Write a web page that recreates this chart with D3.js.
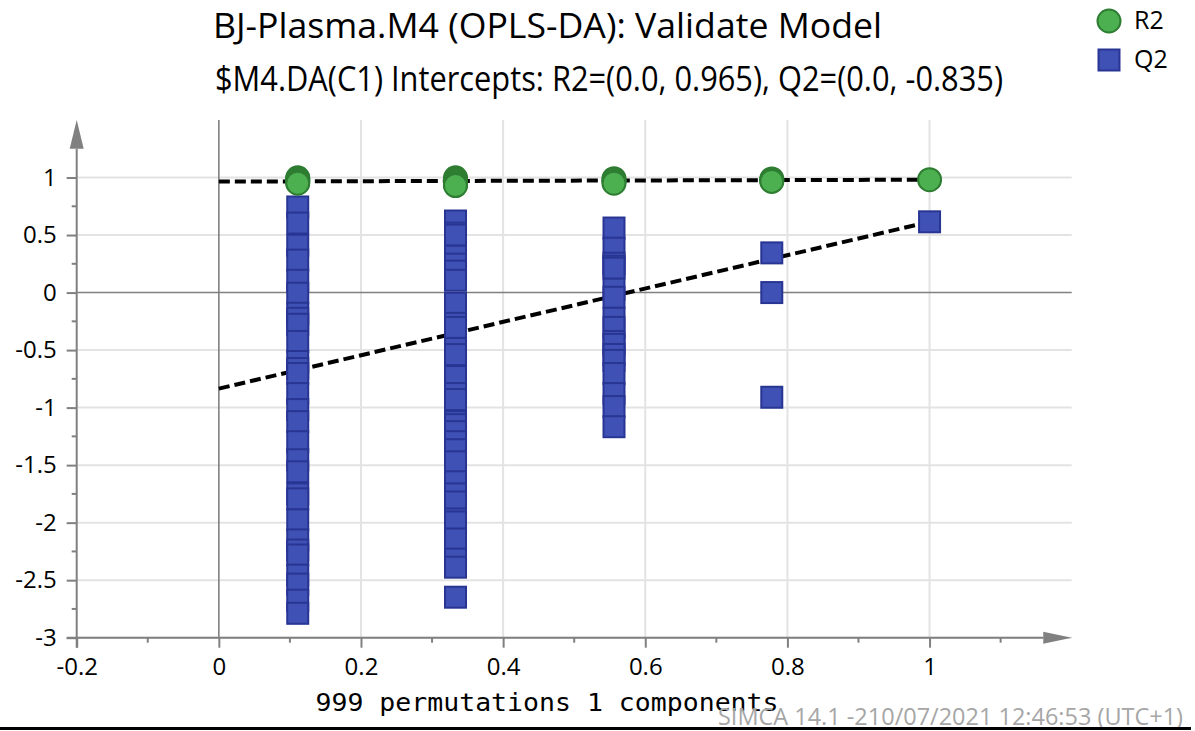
<!DOCTYPE html>
<html><head><meta charset="utf-8">
<script src="https://cdn.jsdelivr.net/npm/d3@7"></script>
<style>
html,body{margin:0;padding:0;background:#fff;}
svg{display:block;}
text{font-family:"Open Sans","Noto Sans",sans-serif;}
</style></head>
<body>
<script>
// ---- data ----
const titleLines = ["BJ-Plasma.M4 (OPLS-DA): Validate Model",
                    "$M4.DA(C1) Intercepts: R2=(0.0, 0.965), Q2=(0.0, -0.835)"];
const xLabel = "999 permutations 1 components";
const footer = "SIMCA 14.1 -210/07/2021 12:46:53 (UTC+1)";
const seriesNames = ["R2", "Q2"];
const xTickValues = [-0.2, 0, 0.2, 0.4, 0.6, 0.8, 1];
const xMinorTicks = [-0.1, 0.1, 0.3, 0.5, 0.7, 0.9, 1.1];
const yTickValues = [-3, -2.5, -2, -1.5, -1, -0.5, 0, 0.5, 1];
const yMinorTicks = [-2.75, -2.25, -1.75, -1.25, -0.75, -0.25, 0.25, 0.75];
const yTickLabels = ["-3", "-2.5", "-2", "-1.5", "-1", "-0.5", "0", "0.5", "1"];
const xTickLabels = ["-0.2", "0", "0.2", "0.4", "0.6", "0.8", "1"];

// correlation of permuted y with original y (x positions)
const permX = [0.111, 0.333, 0.556, 0.778];
const originalX = 1;
// R2 of permuted models per column
const r2Col1 = [0.998, 0.99, 0.98, 0.97, 0.96, 0.95];
const r2Col2 = [0.998, 0.985, 0.97, 0.955, 0.94, 0.93];
const r2Col3 = [0.99, 0.98, 0.965, 0.95];
const r2Col4 = [0.988, 0.975, 0.966];
// Q2 of permuted models per column
const q2Col1 = [0.744, 0.604, 0.412, 0.282, 0.107, -0.006, -0.18, -0.224, -0.276, -0.425,
  -0.599, -0.66, -0.704, -0.878, -1.017, -1.122, -1.296, -1.453, -1.558, -1.75,
  -1.793, -1.976, -2.15, -2.238, -2.281, -2.456, -2.534, -2.674, -2.788];
const q2Col2 = [0.622, 0.517, 0.5, 0.316, 0.247, 0.186, 0.107, -0.093, -0.268, -0.303,
  -0.486, -0.539, -0.73, -0.878, -0.93, -1.122, -1.148, -1.209, -1.296, -1.366,
  -1.471, -1.645, -1.75, -1.82, -1.968, -1.994, -2.142, -2.317, -2.387, -2.648];
const q2Col3 = [0.561, 0.386, 0.255, 0.229, 0.212, 0.029, -0.041, -0.224, -0.303, -0.425,
  -0.451, -0.538, -0.59, -0.704, -0.878, -0.991, -1.166];
const q2Col4 = [0.345, 0.0, -0.91];
// original model
const r2Original = 0.981;
const q2Original = 0.615;
// regression intercepts
const r2Intercept = 0.965;
const q2Intercept = -0.835;

// ---- drawing ----
const W = 1195, H = 731;
const svg = d3.select("body").append("svg").attr("width", W).attr("height", H);

const x = d3.scaleLinear().domain([-0.2, 1.2]).range([76.7, 1071.7]);
const y = d3.scaleLinear().domain([-3, 1.5]).range([637.7, 120]);

const gridColor = "#e3e3e3", axisColor = "#808080";
const tickFont = "24px";

// grid
const grid = svg.append("g");
grid.selectAll(".hg").data(yTickValues.filter(v => v !== 0)).join("line")
  .attr("x1", x(-0.2)).attr("x2", x(1.2)).attr("y1", d => y(d)).attr("y2", d => y(d))
  .attr("stroke", gridColor).attr("stroke-width", 2);
grid.selectAll(".vg").data(xTickValues.filter(v => v > 0)).join("line")
  .attr("x1", d => x(d)).attr("x2", d => x(d)).attr("y1", y(1.5)).attr("y2", y(-3))
  .attr("stroke", gridColor).attr("stroke-width", 2);
// zero lines
svg.append("line").attr("x1", x(-0.2)).attr("x2", x(1.2)).attr("y1", y(0)).attr("y2", y(0))
  .attr("stroke", axisColor).attr("stroke-width", 1.6);
svg.append("line").attr("x1", x(0)).attr("x2", x(0)).attr("y1", y(1.5)).attr("y2", y(-3))
  .attr("stroke", axisColor).attr("stroke-width", 1.6);

// axes
const yAxis = d3.axisLeft(y).tickValues(yTickValues).tickSize(10)
  .tickFormat((d, i) => yTickLabels[i]).tickPadding(10);
const gy = svg.append("g").attr("transform", `translate(${x(-0.2)},0)`).call(yAxis);
gy.select(".domain").remove();
gy.append("line").attr("x1", 0).attr("x2", 0).attr("y1", y(1.25)).attr("y2", y(-3) + 10)
  .attr("stroke", axisColor).attr("stroke-width", 2);
gy.selectAll(".tick line").attr("stroke", axisColor).attr("stroke-width", 2);
gy.selectAll(".tick text").attr("fill", "#000").style("font-size", tickFont)
  .style("font-family", "'Open Sans','Noto Sans',sans-serif");
gy.selectAll(".minor").data(yMinorTicks).join("line").attr("class", "minor")
  .attr("x1", -5).attr("x2", 0).attr("y1", d => y(d)).attr("y2", d => y(d))
  .attr("stroke", axisColor).attr("stroke-width", 2);
gy.append("path").attr("d", `M0,${y(1.5)} L-7,${y(1.25)} L7,${y(1.25)} Z`).attr("fill", axisColor);

const xAxis = d3.axisBottom(x).tickValues(xTickValues).tickSize(10)
  .tickFormat((d, i) => xTickLabels[i]).tickPadding(10);
const gx = svg.append("g").attr("transform", `translate(0,${y(-3)})`).call(xAxis);
gx.select(".domain").remove();
gx.append("line").attr("x1", x(-0.2) - 10).attr("x2", x(1.16)).attr("y1", 0).attr("y2", 0)
  .attr("stroke", axisColor).attr("stroke-width", 2);
gx.selectAll(".tick line").attr("stroke", axisColor).attr("stroke-width", 2);
gx.selectAll(".tick text").attr("fill", "#000").style("font-size", tickFont)
  .style("font-family", "'Open Sans','Noto Sans',sans-serif");
gx.selectAll(".minor").data(xMinorTicks).join("line").attr("class", "minor")
  .attr("x1", d => x(d)).attr("x2", d => x(d)).attr("y1", 0).attr("y2", 5)
  .attr("stroke", axisColor).attr("stroke-width", 2);
gx.append("path").attr("d", `M${x(1.2)},0 L${x(1.16)},-6 L${x(1.16)},6 Z`).attr("fill", axisColor);

// regression lines
const line = d3.line().x(d => x(d[0])).y(d => y(d[1]));
svg.append("path").attr("d", line([[0, r2Intercept], [originalX, r2Original]]))
  .attr("stroke", "#000").attr("stroke-width", 4).attr("stroke-dasharray", "11,5").attr("fill", "none");
svg.append("path").attr("d", line([[0, q2Intercept], [originalX, q2Original]]))
  .attr("stroke", "#000").attr("stroke-width", 4).attr("stroke-dasharray", "11,5").attr("fill", "none");

// points
const q2Cols = [q2Col1, q2Col2, q2Col3, q2Col4];
const r2Cols = [r2Col1, r2Col2, r2Col3, r2Col4];
const q2Pts = [], r2Pts = [];
q2Cols.forEach((c, i) => c.forEach(v => q2Pts.push([permX[i], v])));
q2Pts.push([originalX, q2Original]);
r2Cols.forEach((c, i) => c.forEach(v => r2Pts.push([permX[i], v])));
r2Pts.push([originalX, r2Original]);

const sq = 21, blueFill = "#3f51b5", blueStroke = "#283593";
const greenFill = "#4caf50", greenStroke = "#2e7d32";
svg.append("g").selectAll("rect").data(q2Pts).join("rect")
  .attr("x", d => x(d[0]) - sq / 2).attr("y", d => y(d[1]) - sq / 2)
  .attr("width", sq).attr("height", sq)
  .attr("fill", blueFill).attr("stroke", blueStroke).attr("stroke-width", 2);
svg.append("g").selectAll("circle").data(r2Pts).join("circle")
  .attr("cx", d => x(d[0])).attr("cy", d => y(d[1])).attr("r", 11.5)
  .attr("fill", greenFill).attr("stroke", greenStroke).attr("stroke-width", 2);

// titles
const titleWidths = [669, 788];
const titleCenters = [547.5, 609];
svg.selectAll(".title").data(titleLines).join("text").attr("class", "title")
  .attr("x", (d, i) => titleCenters[i]).attr("y", (d, i) => 38 + i * 53).attr("text-anchor", "middle")
  .style("font-size", "34px").attr("fill", "#000")
  .attr("textLength", (d, i) => titleWidths[i]).attr("lengthAdjust", "spacingAndGlyphs")
  .text(d => d);

// legend
const leg = svg.append("g");
leg.append("circle").attr("cx", 1109).attr("cy", 21).attr("r", 11.5)
  .attr("fill", greenFill).attr("stroke", greenStroke).attr("stroke-width", 2);
leg.append("rect").attr("x", 1109 - 10.5).attr("y", 60 - 10.5).attr("width", 21).attr("height", 21)
  .attr("fill", blueFill).attr("stroke", blueStroke).attr("stroke-width", 2);
leg.selectAll("text").data(seriesNames).join("text")
  .attr("x", 1134).attr("y", (d, i) => 29 + i * 39).style("font-size", "25px").text(d => d);

// x label
svg.append("text").attr("x", 547).attr("y", 711).attr("text-anchor", "middle")
  .style("font-family", "'DejaVu Sans Mono','Liberation Mono',monospace").style("font-size", "25px")
  .attr("textLength", 463).attr("lengthAdjust", "spacingAndGlyphs").text(xLabel);

// footer
svg.append("text").attr("x", 1183).attr("y", 725).attr("text-anchor", "end")
  .style("font-size", "23px").attr("fill", "#a6a6a6")
  .attr("textLength", 465).attr("lengthAdjust", "spacingAndGlyphs").text(footer);
svg.append("rect").attr("x", 0).attr("y", 727).attr("width", 1191).attr("height", 3).attr("fill", "#000");
</script>
</body></html>
